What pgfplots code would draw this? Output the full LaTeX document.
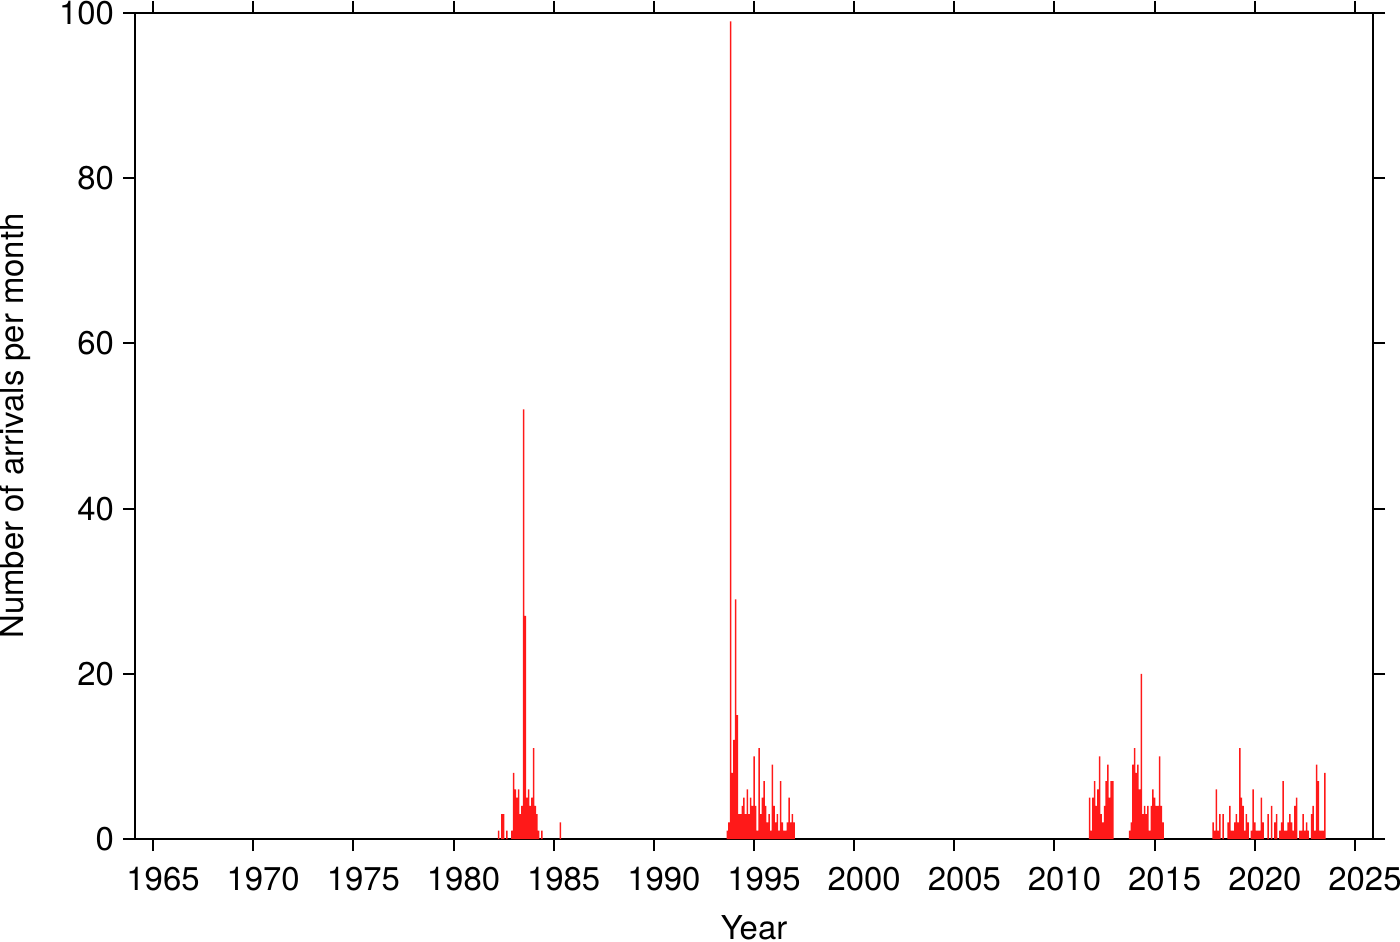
\documentclass[border=0pt]{standalone}
\usepackage{fontspec}
\setmainfont{TeX Gyre Heros}
\usepackage{pgfplots}
\usepackage{pgfplotstable}
\pgfplotsset{compat=1.18}

% monthly arrival counts (only months with arrivals are listed)
\pgfplotstableread{
year month count
1982 4 1
1982 6 3
1982 7 3
1982 9 1
1982 12 1
1983 1 8
1983 2 6
1983 3 5
1983 4 6
1983 5 3
1983 6 4
1983 7 52
1983 8 27
1983 9 5
1983 10 6
1983 11 4
1983 12 5
1984 1 11
1984 2 4
1984 3 3
1984 4 1
1984 6 1
1985 5 2
1993 9 1
1993 10 2
1993 11 99
1993 12 8
1994 1 12
1994 2 29
1994 3 15
1994 4 3
1994 5 3
1994 6 4
1994 7 5
1994 8 3
1994 9 6
1994 10 3
1994 11 5
1994 12 4
1995 1 10
1995 2 4
1995 3 1
1995 4 11
1995 5 3
1995 6 5
1995 7 7
1995 8 4
1995 9 2
1995 10 3
1995 11 1
1995 12 9
1996 1 4
1996 2 2
1996 3 3
1996 4 1
1996 5 7
1996 6 2
1996 7 1
1996 8 1
1996 9 2
1996 10 5
1996 11 2
1996 12 3
1997 1 2
2011 10 5
2011 11 1
2011 12 5
2012 1 7
2012 2 4
2012 3 6
2012 4 10
2012 5 3
2012 6 2
2012 7 4
2012 8 7
2012 9 9
2012 10 5
2012 11 7
2012 12 7
2013 10 1
2013 11 2
2013 12 9
2014 1 11
2014 2 8
2014 3 9
2014 4 6
2014 5 20
2014 6 3
2014 7 4
2014 8 3
2014 9 4
2014 10 1
2014 11 4
2014 12 6
2015 1 5
2015 2 4
2015 3 4
2015 4 10
2015 5 4
2015 6 2
2017 12 2
2018 1 1
2018 2 6
2018 3 1
2018 4 3
2018 6 3
2018 9 2
2018 10 4
2018 11 1
2018 12 1
2019 1 2
2019 2 3
2019 3 2
2019 4 11
2019 5 5
2019 6 4
2019 7 1
2019 8 3
2019 9 2
2019 11 1
2019 12 6
2020 1 2
2020 2 1
2020 3 1
2020 4 1
2020 5 5
2020 6 2
2020 9 3
2020 11 4
2021 1 2
2021 2 3
2021 4 1
2021 5 2
2021 6 7
2021 7 1
2021 8 1
2021 9 2
2021 10 3
2021 11 2
2021 12 1
2022 1 4
2022 2 5
2022 4 1
2022 5 1
2022 6 3
2022 7 1
2022 8 2
2022 9 1
2022 11 3
2022 12 4
2023 1 1
2023 2 9
2023 3 7
2023 4 1
2023 5 1
2023 6 1
2023 7 8
}\arrivals

\begin{document}
\begin{tikzpicture}
\useasboundingbox (-67.5bp,-51.5bp) rectangle (632.5bp,419.5bp);
\begin{axis}[
    at={(0,0)}, anchor=south west,
    scale only axis,
    width=619bp, height=413bp,
    xmin=1964.1, xmax=2025.9,
    ymin=0, ymax=100,
    xtick={1965,1970,...,2025},
    ytick={0,20,...,100},
    tick align=outside,
    major tick length=6bp,
    every tick/.style={black, line width=1bp},
    axis line style={line width=1.4bp},
    font=\fontsize{16.5}{20}\selectfont,
    /pgf/number format/assume math mode=true,
    /pgf/number format/1000 sep={},
    xticklabel shift=4.5bp,
    xticklabel style={xshift=5bp},
    yticklabel shift=1bp,
    xlabel={Year},
    ylabel={Number of arrivals per month},
    every axis x label/.style={at={(axis description cs:0.5,-0.108)}, anchor=center},
    every axis y label/.style={at={(axis description cs:-0.0965,0.5)}, anchor=center, rotate=90},
]
\addplot[ybar, bar width=0.075, bar shift=0pt, fill=red!90!white, draw=none]
    table[x expr=\thisrow{year}+(\thisrow{month}-1)/12, y=count] {\arrivals};
\end{axis}
\end{tikzpicture}
\end{document}
